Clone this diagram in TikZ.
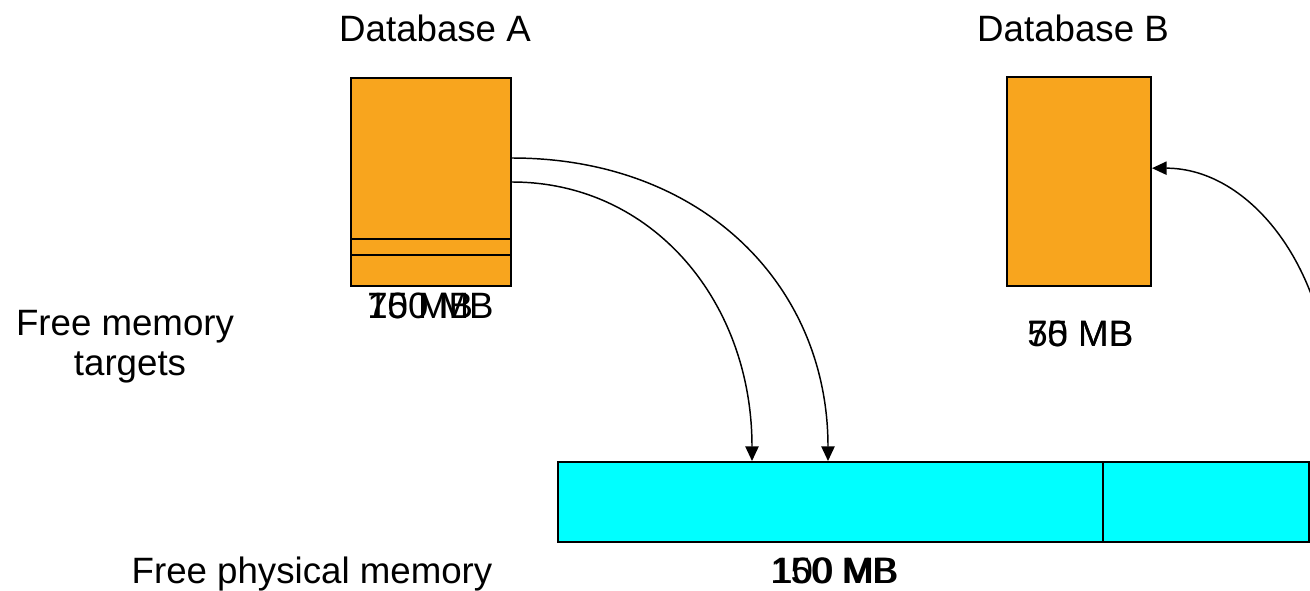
\documentclass[tikz,border=0pt]{standalone}
\usepackage{fontspec}
\setmainfont{Liberation Sans}
\usetikzlibrary{arrows.meta}
\definecolor{dbfill}{HTML}{F8A51E}
\definecolor{memfill}{HTML}{00FFFF}

\begin{document}
\begin{tikzpicture}[x=0.75pt,y=-0.75pt,
  lbl/.style={inner sep=0pt, font=\fontsize{27.5}{33}\selectfont},
  dbbox/.style={draw=black, line width=1.5pt, fill=dbfill, inner sep=0pt, anchor=north west},
  membox/.style={draw=black, line width=1.5pt, fill=memfill, inner sep=0pt, anchor=north west},
  flow/.style={draw=black, line width=1.1pt, -{Triangle[length=11pt,width=10pt]}}]
\useasboundingbox (0,0) rectangle (1310,590);
\clip (0,0) rectangle (1310,590);

% titles
\node[lbl, anchor=base] (titleA) at (435,41) {Database A};
\node[lbl, anchor=base] (titleB) at (1073,41) {Database B};

% database memory blocks
\node[dbbox, minimum width=120pt, minimum height=156pt] (dbA) at (350,77) {};
\draw[line width=1.5pt] ([yshift=36pt]dbA.south west) -- ([yshift=36pt]dbA.south east);
\draw[line width=1.5pt] ([yshift=24pt]dbA.south west) -- ([yshift=24pt]dbA.south east);
\node[dbbox, minimum width=108pt, minimum height=156.75pt] (dbB) at (1006,76) {};

% free physical memory bar
\node[membox, minimum width=408.75pt, minimum height=60pt] (memA) at (557,461) {};
\node[membox, minimum width=154.5pt, minimum height=60pt] (memB) at (1102,461) {};

% row labels
\node[lbl, anchor=base] (fm1) at (125,335) {Free memory};
\node[lbl, anchor=base] (fm2) at (130,375) {targets};
\node[lbl, anchor=base] (fpm) at (312,583) {Free physical memory};

% size labels (old and new sizes printed on top of each other)
\node[lbl, anchor=base west] (tA1) at (367,318) {75 MB};
\node[lbl, anchor=base west] (tA2) at (367,318) {100 MB};
\node[lbl, anchor=base west] (tB1) at (1027,346) {50 MB};
\node[lbl, anchor=base west] (tB2) at (1027,346) {75 MB};
\node[lbl, anchor=base west] (tM1) at (770,583) {150 MB};
\node[lbl, anchor=base west] (tM2) at (772,583) {100 MB};

% memory flows
\coordinate (srcB) at (1330,400);
\draw[flow] ([yshift=18pt]dbA.east) .. controls +(190,0) and +(0,-176) .. ([xshift=203.25pt]memA.north west);
\draw[flow] (dbA.east) .. controls +(140,0) and +(0,-160) .. ([xshift=146.25pt]memA.north west);
\draw[flow] (srcB) .. controls +(0,-129) and +(99,0) .. ([yshift=10pt]dbB.east);
\end{tikzpicture}
\end{document}
